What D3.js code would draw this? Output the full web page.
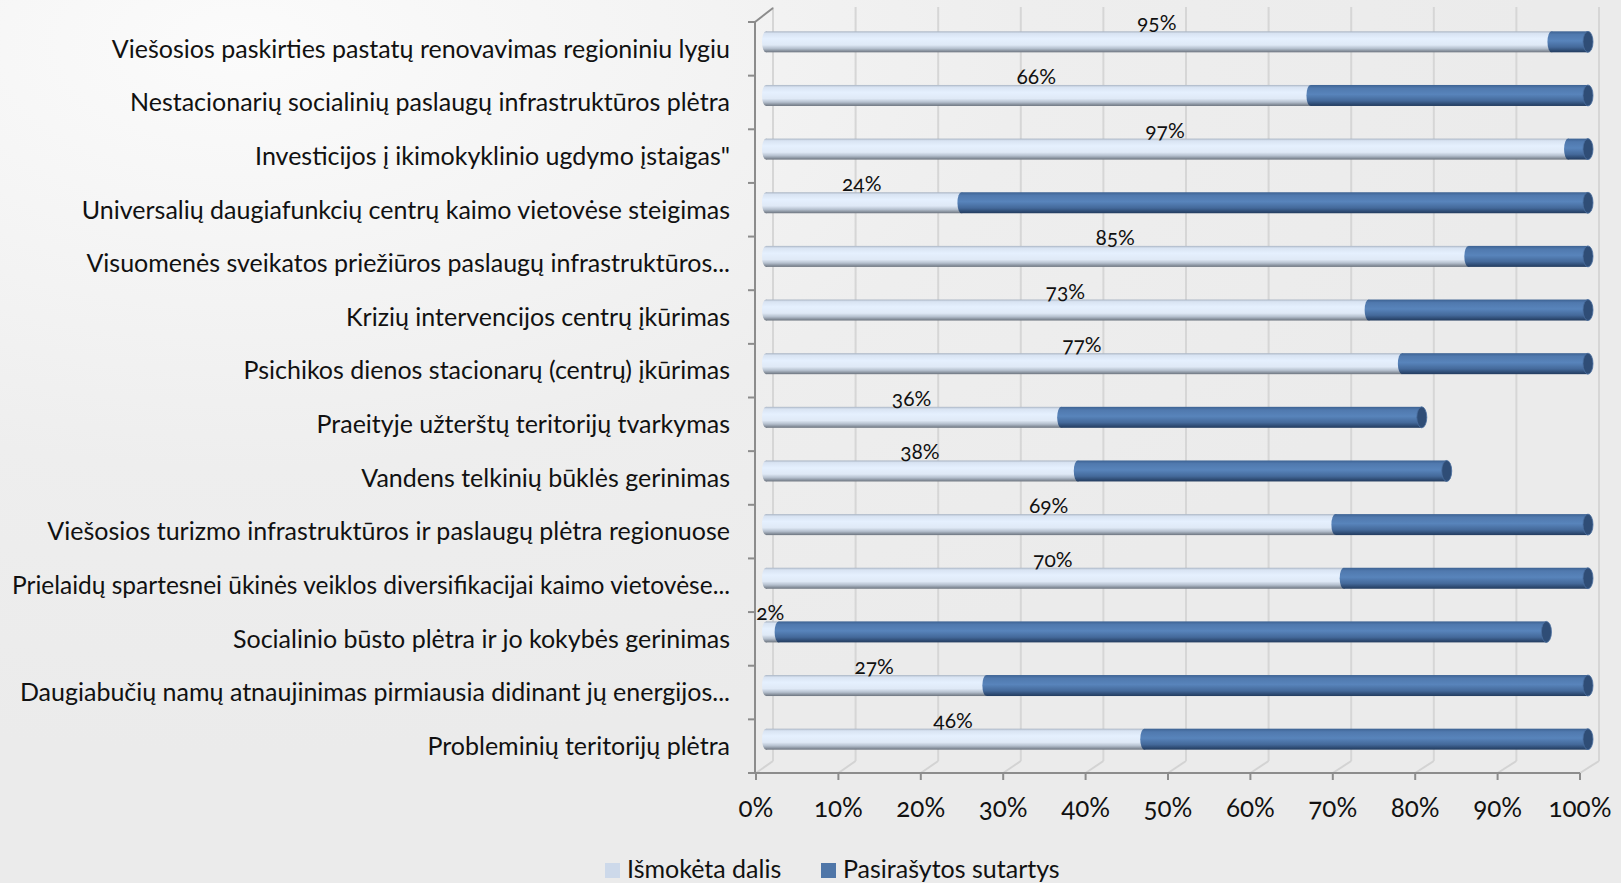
<!DOCTYPE html>
<html>
<head>
<meta charset="utf-8">
<script src="https://cdn.jsdelivr.net/npm/d3@7"></script>
<style>
  body { margin: 0; background: #ececec; }
  svg { display: block; font-family: Lato, "Open Sans", sans-serif; }
  .num { font-variant-numeric: oldstyle-nums; font-feature-settings: "onum" 1; }
</style>
</head>
<body>
<svg width="1621" height="883"></svg>
<script>
// categories top to bottom
const categories = [
  "Viešosios paskirties pastatų renovavimas regioniniu lygiu",
  "Nestacionarių socialinių paslaugų infrastruktūros plėtra",
  "Investicijos į ikimokyklinio ugdymo įstaigas\"",
  "Universalių daugiafunkcių centrų kaimo vietovėse steigimas",
  "Visuomenės sveikatos priežiūros paslaugų infrastruktūros...",
  "Krizių intervencijos centrų įkūrimas",
  "Psichikos dienos stacionarų (centrų) įkūrimas",
  "Praeityje užterštų teritorijų tvarkymas",
  "Vandens telkinių būklės gerinimas",
  "Viešosios turizmo infrastruktūros ir paslaugų plėtra regionuose",
  "Prielaidų spartesnei ūkinės veiklos diversifikacijai kaimo vietovėse...",
  "Socialinio būsto plėtra ir jo kokybės gerinimas",
  "Daugiabučių namų atnaujinimas pirmiausia didinant jų energijos...",
  "Probleminių teritorijų plėtra"
]
// Išmokėta dalis (%)
const paid = [95, 66, 97, 24, 85, 73, 77, 36, 38, 69, 70, 2, 27, 46]
// Pasirašytos sutartys (%), remaining part of each bar
const signed = [5, 34, 3, 76, 15, 27, 23, 44, 45, 31, 30, 93, 73, 54]
const ticks = [0, 10, 20, 30, 40, 50, 60, 70, 80, 90, 100]
const seriesNames = ["Išmokėta dalis", "Pasirašytos sutartys"]

const svg = d3.select("svg")

const defs = svg.append("defs")
const bg = defs.append("radialGradient").attr("id", "bg")
  .attr("cx", 0.15).attr("cy", 0.05).attr("r", 0.8)
bg.append("stop").attr("offset", "0%").attr("stop-color", "#fbfbfb")
bg.append("stop").attr("offset", "60%").attr("stop-color", "#eeeeee")
bg.append("stop").attr("offset", "100%").attr("stop-color", "#ebebeb")

const gLight = defs.append("linearGradient").attr("id", "light")
  .attr("x1", 0).attr("y1", 0).attr("x2", 0).attr("y2", 1)
;[["0%", "#a9b4c3"], ["10%", "#d8e3f2"], ["35%", "#e5f0fe"], ["65%", "#dfe9f6"],
  ["82%", "#b4bfcd"], ["100%", "#6c747f"]].forEach(s =>
  gLight.append("stop").attr("offset", s[0]).attr("stop-color", s[1]))

const gDark = defs.append("linearGradient").attr("id", "dark")
  .attr("x1", 0).attr("y1", 0).attr("x2", 0).attr("y2", 1)
;[["0%", "#3d6292"], ["15%", "#5079ae"], ["45%", "#5884bb"], ["75%", "#44699a"],
  ["100%", "#223b5e"]].forEach(s =>
  gDark.append("stop").attr("offset", s[0]).attr("stop-color", s[1]))

svg.append("rect").attr("width", 1621).attr("height", 883).attr("fill", "url(#bg)")

// scales: front axis, back wall, bars (3d depth offsets)
const xFront = d3.scaleLinear().domain([0, 100]).range([756, 1580])
const xBack = d3.scaleLinear().domain([0, 100]).range([773, 1599])
const xBar = d3.scaleLinear().domain([0, 100]).range([762, 1593])
const y = d3.scaleBand().domain(categories).range([22, 773])
const barH = 21
const barC = d => y(d) + y.bandwidth() / 2 - 7

// back wall grid
const grid = svg.append("g")
grid.selectAll("line.v").data(ticks).enter().append("line")
  .attr("x1", d => xBack(d)).attr("x2", d => xBack(d))
  .attr("y1", 7).attr("y2", 761)
  .attr("stroke", "#d6d6d6").attr("stroke-width", 2)
grid.selectAll("line.f").data(ticks).enter().append("line")
  .attr("x1", d => xFront(d)).attr("x2", d => xBack(d))
  .attr("y1", 773).attr("y2", 761)
  .attr("stroke", "#d3d3d3").attr("stroke-width", 2)

// axes
const axisCol = "#8c8c8c"
svg.append("line").attr("x1", 755).attr("x2", 755).attr("y1", 22).attr("y2", 773)
  .attr("stroke", axisCol).attr("stroke-width", 2)
svg.append("line").attr("x1", 755).attr("x2", 773).attr("y1", 22).attr("y2", 8)
  .attr("stroke", axisCol).attr("stroke-width", 2)
svg.append("line").attr("x1", 755).attr("x2", xFront(100)).attr("y1", 773).attr("y2", 773)
  .attr("stroke", axisCol).attr("stroke-width", 2)
svg.append("g").selectAll("line").data(d3.range(categories.length + 1)).enter().append("line")
  .attr("x1", 748).attr("x2", 755)
  .attr("y1", i => 22 + i * y.step()).attr("y2", i => 22 + i * y.step())
  .attr("stroke", axisCol).attr("stroke-width", 2)
svg.append("g").selectAll("line").data(ticks).enter().append("line")
  .attr("x1", d => xFront(d)).attr("x2", d => xFront(d))
  .attr("y1", 773).attr("y2", 780)
  .attr("stroke", axisCol).attr("stroke-width", 2)

svg.append("g").selectAll("text").data(ticks).enter().append("text")
  .attr("class", "num")
  .attr("x", d => xFront(d)).attr("y", 817)
  .attr("text-anchor", "middle")
  .attr("font-size", 26).attr("fill", "#111")
  .text(d => d + "%")

// category labels, squeezed if wider than the left margin
const maxW = 730 - 12
svg.append("g").selectAll("text").data(categories).enter().append("text")
  .attr("x", 730).attr("y", d => y(d) + y.bandwidth() / 2)
  .attr("dy", "0.35em")
  .attr("text-anchor", "end")
  .attr("font-size", 25).attr("fill", "#111")
  .text(d => d)
  .each(function () {
    if (this.getComputedTextLength() > maxW) {
      d3.select(this).attr("textLength", maxW).attr("lengthAdjust", "spacingAndGlyphs")
    }
  })

// bars
const rows = categories.map((c, i) => ({ c, p: paid[i], s: signed[i] }))
const bars = svg.append("g").selectAll("g").data(rows).enter().append("g")

// dark segment
bars.append("rect")
  .attr("x", d => xBar(d.p)).attr("y", d => barC(d.c) - barH / 2)
  .attr("width", d => xBar(d.p + d.s) - xBar(d.p) - 5).attr("height", barH)
  .attr("fill", "url(#dark)")
bars.append("ellipse")
  .attr("cx", d => xBar(d.p + d.s) - 5).attr("cy", d => barC(d.c))
  .attr("rx", 5).attr("ry", barH / 2)
  .attr("fill", "#2f4d76").attr("stroke", "#4a6f9f").attr("stroke-width", 0.8)
// light segment
bars.append("ellipse")
  .attr("cx", d => xBar(0) + 4).attr("cy", d => barC(d.c))
  .attr("rx", 4).attr("ry", barH / 2)
  .attr("fill", "url(#light)")
bars.append("rect")
  .attr("x", d => xBar(0) + 4).attr("y", d => barC(d.c) - barH / 2)
  .attr("width", d => Math.max(0, xBar(d.p) - xBar(0) - 4)).attr("height", barH)
  .attr("fill", "url(#light)")
bars.append("ellipse")
  .attr("cx", d => xBar(d.p)).attr("cy", d => barC(d.c))
  .attr("rx", 4).attr("ry", barH / 2)
  .attr("fill", "url(#dark)")

// data labels
bars.append("text")
  .attr("class", "num")
  .attr("x", d => xBar(d.p / 2)).attr("y", d => barC(d.c) - barH / 2 - 1)
  .attr("text-anchor", "middle")
  .attr("font-size", 21).attr("fill", "#111")
  .text(d => d.p + "%")

// legend
const legend = svg.append("g")
const lx = [605, 821]
legend.selectAll("rect").data(seriesNames).enter().append("rect")
  .attr("x", (d, i) => lx[i]).attr("y", 863).attr("width", 15).attr("height", 15)
  .attr("fill", (d, i) => i ? "#4f76a8" : "#cdd9ea")
legend.selectAll("text").data(seriesNames).enter().append("text")
  .attr("x", (d, i) => lx[i] + 22).attr("y", 878)
  .attr("font-size", 25).attr("fill", "#111")
  .text(d => d)
</script>
</body>
</html>
